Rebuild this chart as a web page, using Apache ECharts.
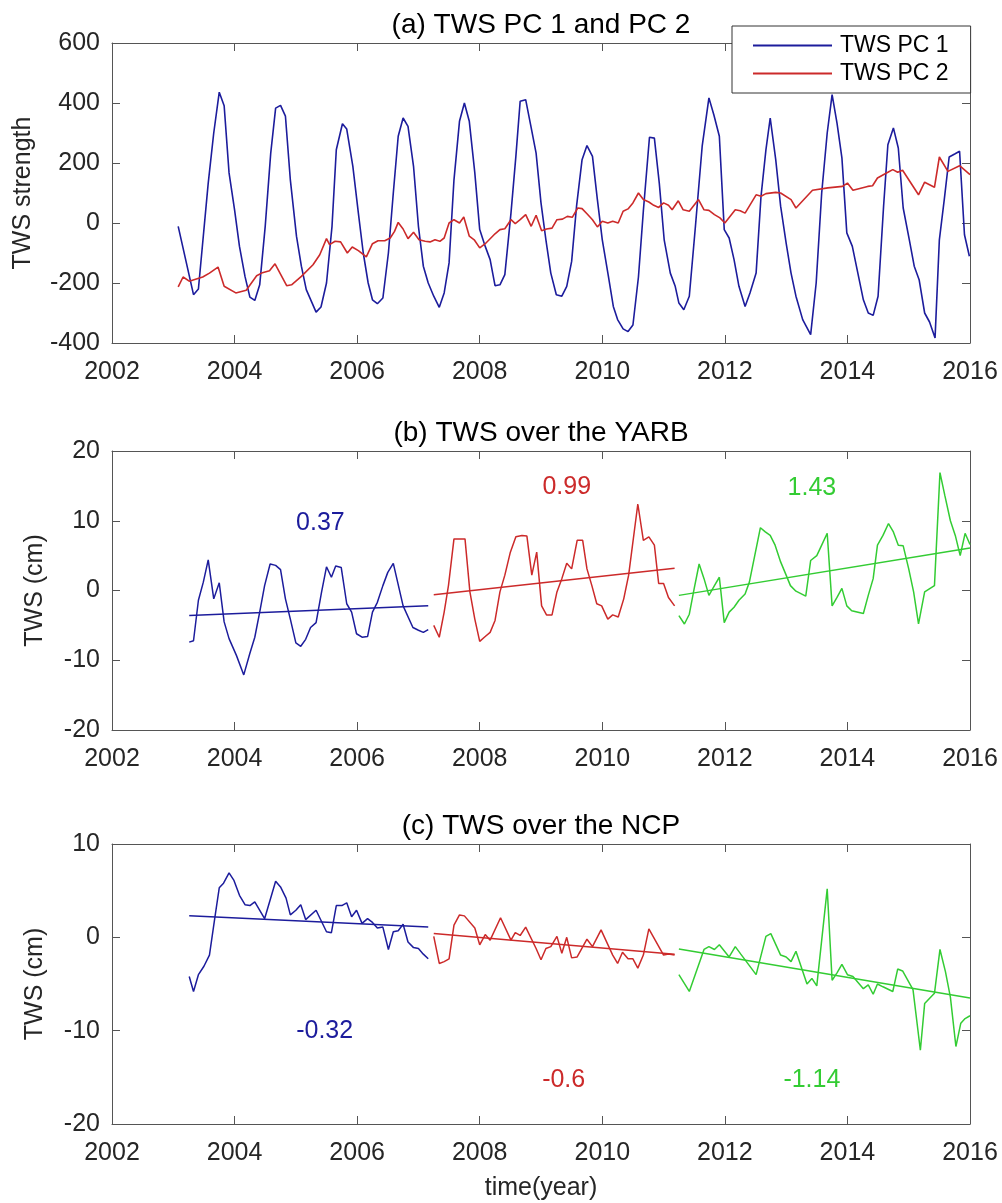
<!DOCTYPE html>
<html><head><meta charset="utf-8">
<script src="https://cdn.jsdelivr.net/npm/echarts@6/dist/echarts.min.js"></script>
<style>html,body{margin:0;padding:0;background:#fff}#c{width:1002px;height:1203px}</style>
</head><body><div id="c"></div>
<script>
// ---------- tick labels ----------
const yearTicks = [2002, 2004, 2006, 2008, 2010, 2012, 2014, 2016];
const pcTicks = [-400, -200, 0, 200, 400, 600];
const yarbTicks = [-20, -10, 0, 10, 20];
const ncpTicks = [-20, -10, 0, 10];

// ---------- texts ----------
const titles = ['(a) TWS PC 1 and PC 2', '(b) TWS over the YARB', '(c) TWS over the NCP'];
const yNames = ['TWS strength', 'TWS (cm)', 'TWS (cm)'];
const xName = 'time(year)';
const legendNames = ['TWS PC 1', 'TWS PC 2'];

// ---------- (a) principal components [year, value] ----------
const pc1 = [[2003.08,-11],[2003.33,-239],[2003.41,-220],[2003.57,133],[2003.66,300],[2003.75,436],[2003.83,391],[2003.91,167],[2004.0,44],[2004.08,-78],[2004.17,-178],[2004.25,-247],[2004.33,-258],[2004.41,-206],[2004.5,-11],[2004.59,233],[2004.67,383],[2004.75,392],[2004.83,356],[2004.91,144],[2005.01,-44],[2005.09,-144],[2005.17,-222],[2005.33,-297],[2005.41,-280],[2005.5,-200],[2005.59,-11],[2005.66,244],[2005.76,331],[2005.83,313],[2005.93,189],[2006.02,33],[2006.1,-100],[2006.18,-200],[2006.25,-256],[2006.33,-269],[2006.42,-250],[2006.51,-100],[2006.59,100],[2006.67,289],[2006.75,350],[2006.83,322],[2006.92,189],[2007.0,-11],[2007.08,-144],[2007.16,-200],[2007.25,-244],[2007.34,-281],[2007.42,-233],[2007.5,-133],[2007.58,144],[2007.67,339],[2007.75,400],[2007.83,339],[2007.92,167],[2008.0,-22],[2008.09,-78],[2008.17,-122],[2008.25,-209],[2008.33,-206],[2008.41,-172],[2008.51,33],[2008.59,222],[2008.66,406],[2008.75,411],[2008.83,328],[2008.92,233],[2009.0,67],[2009.08,-56],[2009.16,-167],[2009.25,-239],[2009.34,-244],[2009.42,-211],[2009.5,-128],[2009.58,56],[2009.67,211],[2009.75,258],[2009.84,222],[2009.92,78],[2010.0,-56],[2010.1,-178],[2010.18,-278],[2010.25,-322],[2010.34,-353],[2010.42,-362],[2010.5,-340],[2010.59,-180],[2010.67,40],[2010.77,286],[2010.85,283],[2010.93,133],[2011.01,-56],[2011.11,-167],[2011.19,-211],[2011.25,-267],[2011.33,-289],[2011.42,-244],[2011.52,-11],[2011.63,256],[2011.74,417],[2011.82,361],[2011.91,289],[2011.99,-22],[2012.07,-50],[2012.15,-122],[2012.23,-211],[2012.33,-278],[2012.41,-233],[2012.51,-167],[2012.59,89],[2012.67,244],[2012.74,350],[2012.83,211],[2012.91,56],[2013.0,-67],[2013.08,-167],[2013.16,-244],[2013.27,-322],[2013.4,-372],[2013.49,-200],[2013.58,100],[2013.67,300],[2013.75,428],[2013.83,333],[2013.91,217],[2013.99,-33],[2014.08,-78],[2014.17,-167],[2014.26,-256],[2014.34,-300],[2014.42,-308],[2014.5,-244],[2014.59,56],[2014.66,261],[2014.75,317],[2014.83,250],[2014.91,50],[2015.01,-56],[2015.09,-144],[2015.17,-189],[2015.26,-300],[2015.34,-330],[2015.43,-383],[2015.5,-56],[2015.58,78],[2015.66,220],[2015.75,230],[2015.83,239],[2015.91,-39],[2015.99,-111]];
const pc2 = [[2003.08,-213],[2003.16,-180],[2003.26,-194],[2003.48,-180],[2003.59,-167],[2003.73,-147],[2003.83,-211],[2004.02,-233],[2004.19,-224],[2004.36,-176],[2004.44,-167],[2004.57,-159],[2004.66,-136],[2004.85,-209],[2004.93,-206],[2005.09,-178],[2005.28,-139],[2005.39,-106],[2005.5,-52],[2005.55,-72],[2005.64,-61],[2005.73,-63],[2005.84,-100],[2005.92,-80],[2006.02,-92],[2006.15,-113],[2006.25,-69],[2006.34,-59],[2006.45,-59],[2006.54,-50],[2006.61,-28],[2006.67,2],[2006.75,-20],[2006.83,-52],[2006.92,-31],[2007.01,-56],[2007.11,-61],[2007.19,-63],[2007.27,-56],[2007.35,-61],[2007.42,-50],[2007.5,0],[2007.58,11],[2007.67,0],[2007.74,20],[2007.83,-44],[2007.91,-56],[2008.0,-83],[2008.09,-69],[2008.25,-36],[2008.33,-22],[2008.41,-19],[2008.51,11],[2008.58,-2],[2008.66,11],[2008.75,28],[2008.84,-11],[2008.92,26],[2009.01,-26],[2009.09,-20],[2009.18,-17],[2009.26,11],[2009.35,13],[2009.43,22],[2009.51,19],[2009.6,50],[2009.67,48],[2009.75,31],[2009.84,11],[2009.92,-13],[2010.0,6],[2010.09,0],[2010.17,6],[2010.26,0],[2010.34,39],[2010.42,47],[2010.5,67],[2010.59,100],[2010.67,78],[2010.76,70],[2010.84,59],[2010.92,52],[2011.0,67],[2011.08,59],[2011.14,44],[2011.24,74],[2011.32,44],[2011.42,39],[2011.57,78],[2011.66,44],[2011.74,42],[2011.83,28],[2011.92,17],[2012.0,0],[2012.17,44],[2012.25,41],[2012.33,33],[2012.51,94],[2012.59,89],[2012.67,98],[2012.83,102],[2012.91,100],[2013.08,78],[2013.16,50],[2013.43,109],[2013.68,117],[2013.92,122],[2014.0,133],[2014.09,109],[2014.33,122],[2014.41,124],[2014.49,150],[2014.66,169],[2014.74,178],[2014.82,169],[2014.9,176],[2015.16,94],[2015.26,136],[2015.42,119],[2015.5,220],[2015.64,172],[2015.83,191],[2016.0,161]];

// ---------- (b) YARB [year, cm] ----------
const yarbPeriod1 = [[2003.26,-7.4],[2003.33,-7.2],[2003.41,-1.4],[2003.49,1.2],[2003.57,4.4],[2003.66,-1.2],[2003.75,1.1],[2003.83,-4.5],[2003.91,-6.9],[2004.03,-9.3],[2004.15,-12.1],[2004.25,-9.0],[2004.33,-6.7],[2004.41,-3.1],[2004.49,0.7],[2004.58,3.8],[2004.67,3.6],[2004.75,3.0],[2004.83,-1.2],[2004.91,-4.1],[2005.0,-7.5],[2005.08,-8.0],[2005.16,-7.0],[2005.24,-5.3],[2005.33,-4.6],[2005.42,-0.2],[2005.5,3.4],[2005.58,1.9],[2005.65,3.5],[2005.74,3.3],[2005.83,-1.9],[2005.91,-3.1],[2005.99,-6.2],[2006.08,-6.7],[2006.17,-6.6],[2006.25,-3.1],[2006.33,-1.7],[2006.42,0.7],[2006.5,2.6],[2006.59,3.9],[2006.75,-2.2],[2006.91,-5.3],[2007.0,-5.7],[2007.08,-6.0],[2007.16,-5.6]];
const yarbPeriod2 = [[2007.25,-5.0],[2007.34,-6.7],[2007.42,-3.1],[2007.49,0.7],[2007.58,7.4],[2007.76,7.4],[2007.84,-0.2],[2007.92,-4.1],[2008.0,-7.3],[2008.09,-6.6],[2008.17,-6.0],[2008.25,-4.3],[2008.33,-0.2],[2008.41,2.2],[2008.5,5.5],[2008.59,7.7],[2008.69,7.9],[2008.77,7.8],[2008.85,2.2],[2008.93,5.5],[2009.01,-2.2],[2009.09,-3.5],[2009.18,-3.5],[2009.26,-0.2],[2009.34,1.7],[2009.42,3.9],[2009.5,3.1],[2009.59,7.2],[2009.68,7.2],[2009.75,3.1],[2009.83,0.7],[2009.91,-1.9],[2009.99,-2.2],[2010.09,-4.1],[2010.17,-3.5],[2010.26,-3.8],[2010.35,-1.2],[2010.43,2.2],[2010.58,12.4],[2010.67,7.2],[2010.76,7.7],[2010.85,6.5],[2010.92,1.0],[2011.0,1.0],[2011.08,-1.0],[2011.18,-2.2]];
const yarbPeriod3 = [[2011.25,-3.6],[2011.34,-4.8],[2011.42,-3.4],[2011.5,0.3],[2011.58,3.8],[2011.66,1.7],[2011.74,-0.7],[2011.83,0.7],[2011.91,1.9],[2011.99,-4.6],[2012.07,-3.1],[2012.15,-2.4],[2012.23,-1.4],[2012.33,-0.5],[2012.4,1.2],[2012.58,9.0],[2012.66,8.4],[2012.74,7.9],[2012.82,6.5],[2012.91,4.1],[2013.0,2.2],[2013.07,0.7],[2013.16,-0.1],[2013.32,-0.8],[2013.4,4.3],[2013.5,5.0],[2013.58,6.5],[2013.67,8.2],[2013.75,-2.2],[2013.83,-1.0],[2013.91,0.3],[2013.99,-2.2],[2014.07,-2.9],[2014.26,-3.3],[2014.34,-0.7],[2014.42,1.7],[2014.49,6.5],[2014.58,7.9],[2014.67,9.6],[2014.75,8.4],[2014.83,6.5],[2014.91,6.4],[2015.0,3.1],[2015.08,-0.2],[2015.16,-4.8],[2015.26,-0.2],[2015.42,0.7],[2015.51,16.9],[2015.59,13.6],[2015.68,10.0],[2015.76,7.9],[2015.84,5.0],[2015.92,8.2],[2016.0,6.6]];
const yarbTrend1 = [[2003.26,-3.6],[2007.16,-2.2]];
const yarbTrend2 = [[2007.25,-0.6],[2011.18,3.2]];
const yarbTrend3 = [[2011.25,-0.7],[2016.0,6.1]];
const yarbSlopeText = ['0.37', '0.99', '1.43'];
const yarbSlopeAt = [[2005.40,9.7],[2009.42,14.8],[2013.42,14.7]];

// ---------- (c) NCP [year, cm] ----------
const ncpPeriod1 = [[2003.26,-4.2],[2003.33,-5.8],[2003.41,-4.0],[2003.5,-3.1],[2003.59,-1.9],[2003.68,2.2],[2003.75,5.3],[2003.82,5.8],[2003.91,6.9],[2003.99,6.1],[2004.08,4.5],[2004.17,3.5],[2004.25,3.4],[2004.33,3.8],[2004.49,2.0],[2004.67,6.0],[2004.75,5.4],[2004.84,4.2],[2004.91,2.4],[2005.0,2.9],[2005.08,3.5],[2005.16,1.9],[2005.33,2.9],[2005.5,0.6],[2005.58,0.5],[2005.66,3.4],[2005.75,3.4],[2005.83,3.7],[2005.91,2.2],[2005.99,2.9],[2006.08,1.5],[2006.17,2.0],[2006.25,1.6],[2006.33,1.0],[2006.42,1.1],[2006.51,-1.3],[2006.59,0.6],[2006.67,0.7],[2006.75,1.4],[2006.83,-0.5],[2006.92,-1.1],[2007.0,-1.2],[2007.08,-1.8],[2007.16,-2.3]];
const ncpPeriod2 = [[2007.25,0.1],[2007.34,-2.8],[2007.42,-2.6],[2007.5,-2.3],[2007.58,1.3],[2007.67,2.4],[2007.75,2.3],[2007.92,1.0],[2008.0,-0.8],[2008.09,0.3],[2008.17,-0.3],[2008.34,2.1],[2008.51,-0.3],[2008.58,0.5],[2008.66,0.2],[2008.75,1.1],[2008.92,-1.2],[2009.0,-2.4],[2009.08,-1.2],[2009.16,-1.0],[2009.26,0.1],[2009.34,-1.7],[2009.42,0.0],[2009.5,-2.2],[2009.59,-2.1],[2009.75,-0.2],[2009.84,-1.0],[2009.98,0.8],[2010.17,-1.9],[2010.25,-2.8],[2010.33,-1.6],[2010.42,-2.3],[2010.5,-2.3],[2010.58,-3.3],[2010.67,-1.9],[2010.76,0.9],[2011.0,-1.9],[2011.08,-1.8],[2011.18,-1.9]];
const ncpPeriod3 = [[2011.25,-4.0],[2011.42,-5.8],[2011.66,-1.3],[2011.74,-1.0],[2011.83,-1.3],[2011.91,-0.8],[2012.07,-2.1],[2012.17,-1.0],[2012.26,-1.8],[2012.51,-4.0],[2012.67,0.1],[2012.75,0.4],[2012.91,-1.9],[2013.0,-2.1],[2013.08,-2.6],[2013.16,-1.5],[2013.34,-5.0],[2013.42,-4.4],[2013.5,-5.2],[2013.67,5.2],[2013.75,-4.6],[2013.83,-3.8],[2013.91,-2.9],[2014.0,-4.0],[2014.09,-4.2],[2014.26,-5.5],[2014.34,-5.1],[2014.42,-6.1],[2014.49,-5.0],[2014.58,-5.3],[2014.74,-5.8],[2014.82,-3.4],[2014.9,-3.6],[2015.07,-5.6],[2015.19,-12.1],[2015.26,-7.1],[2015.42,-6.0],[2015.51,-1.3],[2015.6,-3.7],[2015.68,-6.4],[2015.77,-11.7],[2015.85,-9.2],[2015.92,-8.7],[2016.0,-8.4]];
const ncpTrend1 = [[2003.26,2.3],[2007.16,1.1]];
const ncpTrend2 = [[2007.25,0.4],[2011.18,-1.8]];
const ncpTrend3 = [[2011.25,-1.25],[2016.0,-6.5]];
const ncpSlopeText = ['-0.32', '-0.6', '-1.14'];
const ncpSlopeAt = [[2005.47,-10.1],[2009.37,-15.3],[2013.42,-15.3]];

// ---------- styles ----------
const FONT = "'Liberation Sans', Arial, Helvetica, sans-serif";
const BLUE = '#1c1c9c', RED = '#cc2a2a', GREEN = '#33cc33';
const AXIS = '#555555', TXT = '#262626';
const grids = [
  {left: 112, top: 43, width: 858, height: 300},
  {left: 112, top: 451, width: 858, height: 279},
  {left: 112, top: 844, width: 858, height: 280}
];
const yTickSets = [pcTicks, yarbTicks, ncpTicks];
const yNameGaps = [76, 64, 64];

const xAxes = [], yAxes = [];
grids.forEach((g, i) => {
  const xBase = {
    type: 'value', gridIndex: i,
    min: yearTicks[0], max: yearTicks[yearTicks.length - 1], interval: yearTicks[1] - yearTicks[0],
    splitLine: {show: false},
    axisLine: {show: true, onZero: false, lineStyle: {color: AXIS, width: 1}},
    axisTick: {show: true, inside: true, length: 8, lineStyle: {color: AXIS}}
  };
  xAxes.push(Object.assign({}, xBase, {
    position: 'bottom',
    axisLabel: {show: true, fontSize: 25, fontFamily: FONT, color: TXT, margin: 17,
      showMinLabel: true, showMaxLabel: true, formatter: v => String(v)},
    name: i === 2 ? xName : '', nameLocation: 'middle', nameGap: 52,
    nameTextStyle: {fontSize: 25, fontFamily: FONT, color: TXT}
  }));
  xAxes.push(Object.assign({}, xBase, {
    position: 'top',
    axisLabel: {show: false},
    name: titles[i], nameLocation: 'middle', nameGap: 4,
    nameTextStyle: {fontSize: 28, fontFamily: FONT, color: '#000'}
  }));
  const t = yTickSets[i];
  const yBase = {
    type: 'value', gridIndex: i,
    min: t[0], max: t[t.length - 1], interval: t[1] - t[0],
    splitLine: {show: false},
    axisLine: {show: true, onZero: false, lineStyle: {color: AXIS, width: 1}},
    axisTick: {show: true, inside: true, length: 8, lineStyle: {color: AXIS}}
  };
  yAxes.push(Object.assign({}, yBase, {
    position: 'left',
    axisLabel: {show: true, fontSize: 25, fontFamily: FONT, color: TXT, margin: 12,
      showMinLabel: true, showMaxLabel: true},
    name: yNames[i], nameLocation: 'middle', nameGap: yNameGaps[i], nameRotate: 90,
    nameTextStyle: {fontSize: 25, fontFamily: FONT, color: TXT}
  }));
  yAxes.push(Object.assign({}, yBase, {position: 'right', axisLabel: {show: false}}));
});

function line(name, data, g, color, width) {
  return {type: 'line', name: name, data: data, xAxisIndex: 2 * g, yAxisIndex: 2 * g,
    symbol: 'none', showSymbol: false, smooth: false, animation: false, silent: true,
    lineStyle: {color: color, width: width}, itemStyle: {color: color}};
}
function labels(texts, at, g, colors) {
  return {type: 'scatter', xAxisIndex: 2 * g, yAxisIndex: 2 * g, symbolSize: 0, silent: true, animation: false,
    data: texts.map((s, k) => ({name: s, value: at[k], itemStyle: {color: colors[k], opacity: 1},
      label: {show: true, position: 'inside', formatter: '{b}', fontSize: 25, fontFamily: FONT,
        color: colors[k], textBorderWidth: 0, opacity: 1}}))};
}

const series = [
  line(legendNames[0], pc1, 0, BLUE, 1.6),
  line(legendNames[1], pc2, 0, RED, 1.6),
  line('yarb1', yarbPeriod1, 1, BLUE, 1.5),
  line('yarb2', yarbPeriod2, 1, RED, 1.5),
  line('yarb3', yarbPeriod3, 1, GREEN, 1.5),
  line('yarbT1', yarbTrend1, 1, BLUE, 1.5),
  line('yarbT2', yarbTrend2, 1, RED, 1.5),
  line('yarbT3', yarbTrend3, 1, GREEN, 1.5),
  labels(yarbSlopeText, yarbSlopeAt, 1, [BLUE, RED, GREEN]),
  line('ncp1', ncpPeriod1, 2, BLUE, 1.5),
  line('ncp2', ncpPeriod2, 2, RED, 1.5),
  line('ncp3', ncpPeriod3, 2, GREEN, 1.5),
  line('ncpT1', ncpTrend1, 2, BLUE, 1.5),
  line('ncpT2', ncpTrend2, 2, RED, 1.5),
  line('ncpT3', ncpTrend3, 2, GREEN, 1.5),
  labels(ncpSlopeText, ncpSlopeAt, 2, [BLUE, RED, GREEN])
];

const chart = echarts.init(document.getElementById('c'), null, {renderer: 'canvas'});
chart.setOption({
  backgroundColor: '#fff',
  animation: false,
  textStyle: {fontFamily: FONT},
  grid: grids,
  xAxis: xAxes,
  yAxis: yAxes,
  legend: {
    data: legendNames, orient: 'vertical', left: 732, top: 26,
    padding: [8, 22, 8, 21], itemGap: 5, itemWidth: 79, itemHeight: 2, icon: 'rect',
    backgroundColor: '#fff', borderColor: '#333', borderWidth: 1,
    textStyle: {fontSize: 23, fontFamily: FONT, color: '#000', padding: [0, 0, 0, 3]},
    selectedMode: false
  },
  series: series
});
</script></body></html>
